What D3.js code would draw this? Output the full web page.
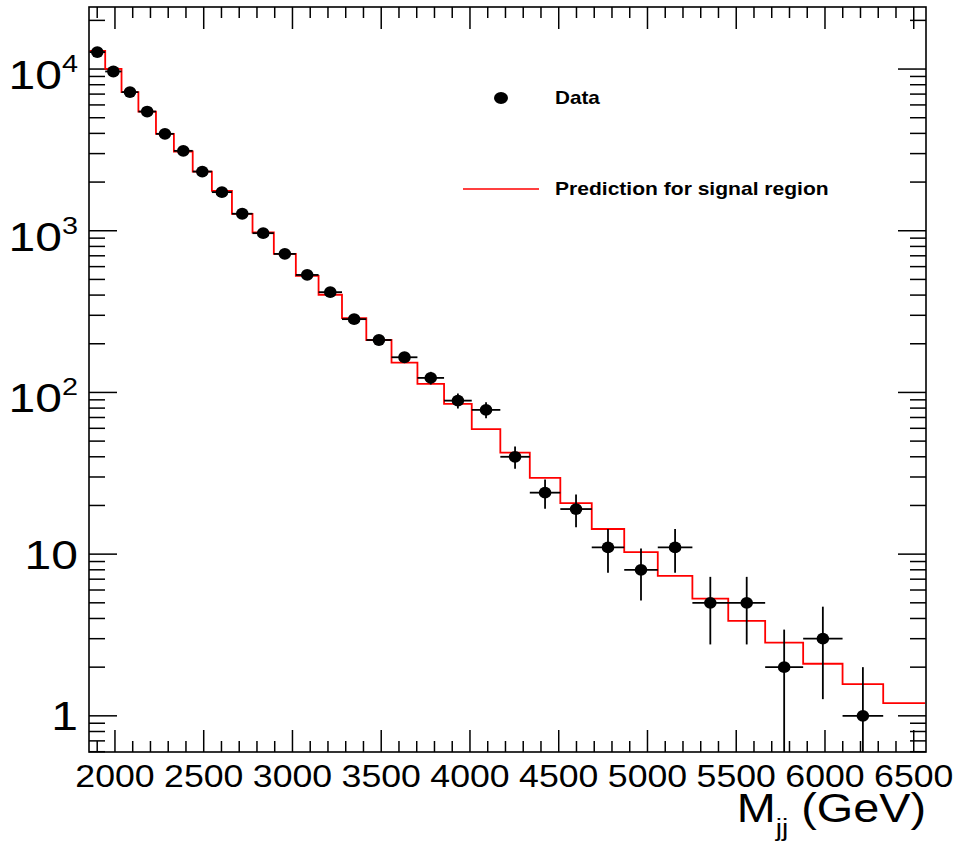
<!DOCTYPE html>
<html>
<head>
<meta charset="utf-8">
<script src="https://cdn.jsdelivr.net/npm/d3@7"></script>
<style>
  html, body { margin: 0; padding: 0; background: #fff; }
  svg { display: block; }
  text { font-family: "Liberation Sans", Arial, Helvetica, sans-serif; fill: #000; }
</style>
</head>
<body>
<svg id="chart" width="960" height="844"></svg>
<script>
// dijet mass bin edges (GeV)
const binEdges = [1856, 1945, 2037, 2132, 2231, 2332, 2438, 2546, 2659, 2775, 2895,
  3019, 3147, 3279, 3416, 3558, 3704, 3854, 4010, 4171, 4337, 4509, 4686, 4869,
  5058, 5253, 5455, 5663, 5877, 6099, 6328, 6564];

// observed events per bin (last bin empty)
const dataCounts = [12730, 9660, 7200, 5460, 3975, 3120, 2323, 1733, 1274, 966,
  719, 533, 417, 284, 211, 165, 123, 89, 78, 40, 24, 19, 11, 8, 11, 5, 5, 2, 3, 1, 0];

// prediction for signal region, per bin
const prediction = [12970, 10020, 7200, 5460, 3970, 3090, 2320, 1766, 1273, 975,
  719, 526, 402, 288, 211, 153, 113, 85, 59.3, 42.5, 29.6, 20.7, 14.3, 10.3, 7.34,
  5.3, 3.87, 2.84, 2.10, 1.57, 1.20];

const xMajor = [2000, 2500, 3000, 3500, 4000, 4500, 5000, 5500, 6000, 6500];
const yMajor = [1, 10, 100, 1000, 10000];
const yLabels = [["1", null], ["10", null], ["10", "2"], ["10", "3"], ["10", "4"]];

const svg = d3.select("#chart");
const SX = 1.2; // the reference glyphs are horizontally stretched

const x = d3.scaleLinear().domain([1856, 6564]).range([89.4, 925.1]);
const y = d3.scaleLog().domain([0.6, 24300]).range([751.7, 6.7]);

const frameL = 89, frameR = 926, frameT = 7, frameB = 752;

svg.append("defs").append("clipPath").attr("id", "plotClip")
  .append("rect").attr("x", frameL).attr("y", frameT)
  .attr("width", frameR - frameL).attr("height", frameB - frameT);

// 1) ticks (both sides, ROOT style)
const tickG = svg.append("g").attr("stroke", "#000").attr("stroke-width", 1.5);

const xMinor = d3.range(1900, 6564, 100);
xMinor.forEach(v => {
  const major = v % 500 === 0;
  const len = major ? 22 : 11;
  tickG.append("line").attr("x1", x(v)).attr("x2", x(v))
    .attr("y1", frameB).attr("y2", frameB - len);
  tickG.append("line").attr("x1", x(v)).attr("x2", x(v))
    .attr("y1", frameT).attr("y2", frameT + len);
});

const yTicks = [];
[0.1, 1, 10, 100, 1000, 10000].forEach(dec => {
  for (let k = 1; k <= 9; k++) {
    const v = dec * k;
    if (v >= 0.6 && v <= 24300) yTicks.push({ v, major: k === 1 });
  }
});
yTicks.forEach(t => {
  const len = t.major ? 28 : 16;
  tickG.append("line").attr("x1", frameL).attr("x2", frameL + len)
    .attr("y1", y(t.v)).attr("y2", y(t.v));
  tickG.append("line").attr("x1", frameR).attr("x2", frameR - len)
    .attr("y1", y(t.v)).attr("y2", y(t.v));
});

// 2) prediction histogram
const plot = svg.append("g").attr("clip-path", "url(#plotClip)");
const stepPts = prediction.map((p, i) => [binEdges[i], p]);
stepPts.push([binEdges[binEdges.length - 1], prediction[prediction.length - 1]]);

plot.append("path")
  .attr("d", d3.line().x(d => x(d[0])).y(d => y(d[1])).curve(d3.curveStepAfter)(stepPts))
  .attr("fill", "none")
  .attr("stroke", "#ff0000")
  .attr("stroke-width", 1.8);

// 3) data points with errors
const pts = dataCounts.map((n, i) => ({
  n, lo: binEdges[i], hi: binEdges[i + 1], c: (binEdges[i] + binEdges[i + 1]) / 2
})).filter(d => d.n > 0);

const pg = plot.append("g").attr("stroke", "#000").attr("stroke-width", 1.8);
pg.selectAll(".xerr").data(pts).enter().append("line")
  .attr("x1", d => x(d.lo)).attr("x2", d => x(d.hi))
  .attr("y1", d => y(d.n)).attr("y2", d => y(d.n));
pg.selectAll(".yerr").data(pts).enter().append("line")
  .attr("x1", d => x(d.c)).attr("x2", d => x(d.c))
  .attr("y1", d => y(d.n + Math.sqrt(d.n)))
  .attr("y2", d => (d.n - Math.sqrt(d.n)) > 0.6 ? y(d.n - Math.sqrt(d.n)) : frameB + 2);
plot.selectAll(".pt").data(pts).enter().append("ellipse")
  .attr("cx", d => x(d.c)).attr("cy", d => y(d.n))
  .attr("rx", 6.3).attr("ry", 5.9).attr("fill", "#000");

// 4) frame
svg.append("rect").attr("x", frameL).attr("y", frameT)
  .attr("width", frameR - frameL).attr("height", frameB - frameT)
  .attr("fill", "none").attr("stroke", "#000").attr("stroke-width", 1.6);

// 5) tick labels
xMajor.forEach(v => {
  svg.append("text")
    .attr("transform", `translate(${x(v)},787) scale(1.15,1)`)
    .attr("text-anchor", "middle")
    .attr("font-size", 31)
    .text(v);
});

yMajor.forEach((v, i) => {
  const [base, exp] = yLabels[i];
  const t = svg.append("text")
    .attr("text-anchor", "end")
    .attr("font-size", 40);
  if (exp) {
    t.attr("transform", `translate(78,${y(v) + 20}) scale(${SX},1)`);
    t.append("tspan").text(base);
    t.append("tspan").attr("font-size", 24).attr("dy", -17).text(exp);
  } else {
    t.attr("transform", `translate(78,${y(v) + 14.5}) scale(${SX},1)`);
    t.text(base);
  }
});

// 6) axis title
const title = svg.append("text")
  .attr("transform", `translate(926,822) scale(1.17,1)`)
  .attr("text-anchor", "end")
  .attr("font-size", 40);
title.append("tspan").text("M");
title.append("tspan").attr("font-size", 24).attr("dy", 14).text("jj");
title.append("tspan").attr("dy", -14).text(" (GeV)");

// 7) legend
svg.append("ellipse").attr("cx", 501).attr("cy", 98)
  .attr("rx", 7).attr("ry", 6).attr("fill", "#000");
svg.append("text")
  .attr("transform", `translate(555,104) scale(1.15,1)`)
  .attr("font-size", 18).attr("font-weight", "bold")
  .text("Data");
svg.append("line").attr("x1", 463).attr("x2", 539).attr("y1", 189).attr("y2", 189)
  .attr("stroke", "#ff0000").attr("stroke-width", 1.5);
svg.append("text")
  .attr("transform", `translate(555,195) scale(1.17,1)`)
  .attr("font-size", 18).attr("font-weight", "bold")
  .text("Prediction for signal region");
</script>
</body>
</html>
